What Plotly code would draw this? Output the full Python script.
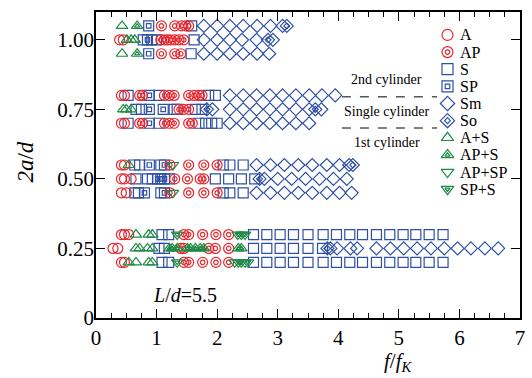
import plotly.graph_objects as go

# ---------------- data (f/fK values for each 2a/d row) ----------------
A = {1.00: [0.39, 0.45], 0.80: [0.42, 0.47], 0.70: [0.42, 0.47], 0.55: [0.42, 0.47],
     0.50: [0.42, 0.47, 0.58], 0.45: [0.42, 0.50], 0.30: [0.42, 0.47, 0.54],
     0.25: [0.28, 0.36], 0.20: [0.42, 0.47]}
AP = {1.05: [1.08, 1.30, 1.41, 1.48, 1.53], 1.00: [1.07, 1.13, 1.18, 1.23, 1.30, 1.37, 1.45],
      0.95: [1.08, 1.30, 1.40],
      0.80: [0.72, 0.77, 1.13, 1.21, 1.29, 1.53, 1.62, 1.70, 1.75], 0.75: [1.37, 1.45, 1.53],
      0.70: [0.72, 0.77, 1.13, 1.21, 1.29, 1.53, 1.59],
      0.55: [1.22, 1.53, 1.78, 2.00], 0.50: [1.30, 1.51, 1.72, 1.78], 0.45: [1.22, 1.53, 1.78, 2.00],
      0.30: [1.45, 1.53, 1.76, 1.98, 2.19], 0.25: [1.40, 1.45, 1.86, 1.97, 2.19],
      0.20: [1.45, 1.53, 1.76, 1.98, 2.19]}
S = {1.05: [1.58], 1.00: [0.78, 0.92, 1.00, 1.62], 0.95: [1.57],
     0.80: [0.53, 1.04, 1.86, 1.97], 0.75: [0.66, 0.75, 1.29, 1.34, 1.64, 1.75],
     0.70: [0.53, 1.04, 1.70, 1.81, 1.91, 2.00],
     0.55: [0.64, 0.72, 1.07, 2.10, 2.21, 2.43], 0.50: [0.66, 0.85, 0.93, 1.21, 1.97, 2.19, 2.40, 2.62],
     0.45: [0.64, 0.70, 1.07, 2.10, 2.21, 2.43],
     0.30: [1.09, 1.20, 2.60, 2.82, 3.04, 3.26, 3.50, 3.75, 3.97, 4.19, 4.40, 4.63, 4.85, 5.07, 5.28, 5.50, 5.73],
     0.25: [1.04, 1.13, 2.60, 2.82, 3.04, 3.26, 3.50, 3.74],
     0.20: [1.09, 1.20, 2.60, 2.82, 3.04, 3.26, 3.50, 3.75, 3.97, 4.19, 4.40, 4.63, 4.85, 5.07, 5.28, 5.50, 5.73]}
SP = {1.05: [0.87], 1.00: [0.85], 0.95: [0.87], 0.80: [0.88], 0.75: [0.88, 1.11], 0.70: [0.88],
      0.55: [0.88, 1.13], 0.50: [1.02, 1.07, 1.13], 0.45: [0.80, 1.13]}
Sm = {1.05: [1.78, 2.00, 2.21, 2.43, 2.66, 2.88, 3.08],
      1.00: [1.78, 2.00, 2.21, 2.41, 2.65, 2.92],
      0.95: [1.78, 2.00, 2.21, 2.43, 2.66, 2.86],
      0.80: [2.21, 2.43, 2.65, 2.87, 3.08, 3.30, 3.52, 3.73, 3.95],
      0.75: [1.92, 2.21, 2.43, 2.65, 2.87, 3.08, 3.30, 3.52, 3.72],
      0.70: [2.21, 2.43, 2.65, 2.87, 3.08, 3.30, 3.52],
      0.55: [2.65, 2.88, 3.11, 3.34, 3.57, 3.81, 4.02, 4.18],
      0.50: [2.78, 3.00, 3.23, 3.46, 3.69, 3.92, 4.14],
      0.45: [2.65, 2.88, 3.11, 3.34, 3.57, 3.81, 4.02, 4.22],
      0.25: [3.87, 3.98, 4.20, 4.31, 4.63, 4.86, 5.08, 5.30, 5.53, 5.75, 5.97, 6.19, 6.42, 6.64]}
So = {1.05: [3.15], 1.00: [2.84], 0.75: [1.83, 3.62], 0.55: [4.24], 0.50: [2.70], 0.25: [3.82]}
A_S = {1.05: [0.43], 1.00: [0.51, 0.58, 0.64], 0.95: [0.43], 0.75: [0.45, 0.50, 0.58], 0.55: [0.54],
       0.30: [0.66, 0.87, 0.93], 0.25: [0.66, 0.72, 0.85, 0.93], 0.20: [0.54, 0.66, 0.87, 0.93]}
AP_S = {1.05: [0.68], 0.95: [0.68],
        0.25: [1.21, 1.26, 1.34, 1.51, 1.56, 1.64, 1.72, 1.78, 2.35, 2.40]}
AP_SP = {0.55: [1.27], 0.45: [1.27], 0.20: [2.29, 2.46]}
SP_S = {0.30: [1.34, 2.34, 2.40, 2.46], 0.20: [1.34, 2.35, 2.40, 2.51]}

legend_names = ["A", "AP", "S", "SP", "Sm", "So", "A+S", "AP+S", "AP+SP", "SP+S"]
x_ticks = [0, 1, 2, 3, 4, 5, 6, 7]
y_ticks = [0, 0.25, 0.50, 0.75, 1.00]
y_ticktext = ["0", "0.25", "0.50", "0.75", "1.00"]

# ---------------- styles ----------------
RED, BLUE, GREEN = "#e8262d", "#2e4fa3", "#1f8a45"
FONT = "Liberation Serif"
styles = {
    "A": (A, "circle-open", None, RED),
    "AP": (AP, "circle-open", "circle-open", RED),
    "S": (S, "square-open", None, BLUE),
    "SP": (SP, "square-open", "square-open", BLUE),
    "Sm": (Sm, "diamond-open", None, BLUE),
    "So": (So, "diamond-open", "diamond-open", BLUE),
    "A+S": (A_S, "triangle-up-open", None, GREEN),
    "AP+S": (AP_S, "triangle-up-open", "triangle-up-open", GREEN),
    "AP+SP": (AP_SP, "triangle-down-open", None, GREEN),
    "SP+S": (SP_S, "triangle-down-open", "triangle-down-open", GREEN),
}
draw_order = ["S", "SP", "Sm", "So", "A", "AP", "A+S", "AP+S", "AP+SP", "SP+S"]
SIZE, INNER, LW = 10, 4.5, 1.2


def flatten(d):
    xs, ys = [], []
    for row, vals in d.items():
        for v in vals:
            xs.append(v)
            ys.append(row)
    return xs, ys


fig = go.Figure()
for name in draw_order:
    d, sym, inner, col = styles[name]
    xs, ys = flatten(d)
    fig.add_trace(go.Scatter(x=xs, y=ys, mode="markers", showlegend=False, hoverinfo="skip",
                             marker=dict(symbol=sym, size=SIZE, color=col, line=dict(color=col, width=LW))))
    if inner:
        fig.add_trace(go.Scatter(x=xs, y=ys, mode="markers", showlegend=False, hoverinfo="skip",
                                 marker=dict(symbol=inner, size=INNER, color=col, line=dict(color=col, width=LW))))

# ---------------- custom legend on an overlay axis ----------------
LEG_X, LEG_TX, LEG_Y0, LEG_DY = 0.829, 0.853, 0.925, 0.056
for i, name in enumerate(legend_names):
    d, sym, inner, col = styles[name]
    yy = LEG_Y0 - i * LEG_DY
    fig.add_trace(go.Scatter(x=[LEG_X], y=[yy], xaxis="x2", yaxis="y2", mode="markers", showlegend=False,
                             hoverinfo="skip",
                             marker=dict(symbol=sym, size=SIZE + 1, color=col, line=dict(color=col, width=LW))))
    if inner:
        fig.add_trace(go.Scatter(x=[LEG_X], y=[yy], xaxis="x2", yaxis="y2", mode="markers", showlegend=False,
                                 hoverinfo="skip",
                                 marker=dict(symbol=inner, size=INNER, color=col, line=dict(color=col, width=LW))))
    fig.add_annotation(x=LEG_TX, y=yy, xref="paper", yref="paper", text=name, showarrow=False,
                       xanchor="left", yanchor="middle", font=dict(family=FONT, size=16, color="black"))

# cylinder labels and dashed separators
for txt, yv in [("2nd cylinder", 0.856), ("Single cylinder", 0.742), ("1st cylinder", 0.630)]:
    fig.add_annotation(x=4.80, y=yv, text=txt, showarrow=False, xanchor="center", yanchor="middle",
                       font=dict(family=FONT, size=14, color="black"))
for yv in [0.795, 0.683]:
    fig.add_shape(type="line", x0=4.06, x1=5.63, y0=yv, y1=yv, line=dict(color="black", width=1, dash="dash"))

fig.add_annotation(x=1.476, y=0.083, text="<i>L</i>/<i>d</i>=5.5", showarrow=False,
                   font=dict(family=FONT, size=20, color="black"))
fig.add_annotation(x=-0.166, y=0.51, xref="paper", yref="paper", text="<i>2a</i>/<i>d</i>", textangle=-90,
                   xanchor="center", yanchor="middle",
                   showarrow=False, font=dict(family=FONT, size=23, color="black"))
fig.add_annotation(x=0.713, y=-0.144, xref="paper", yref="paper", text="<i>f</i>/<i>f</i><sub><i>K</i></sub>",
                   xanchor="center", yanchor="middle",
                   showarrow=False, font=dict(family=FONT, size=21, color="black"))

axis_common = dict(showline=True, linecolor="black", linewidth=1.5, mirror="ticks", ticks="inside",
                   ticklen=9, tickwidth=1.2, tickcolor="black", showgrid=False, zeroline=False,
                   tickfont=dict(family=FONT, size=21, color="black"))
fig.update_layout(
    width=532, height=378, margin=dict(l=96, r=7, t=12, b=60),
    plot_bgcolor="white", paper_bgcolor="white", showlegend=False,
    xaxis=dict(range=[0, 7], tickvals=x_ticks, minor=dict(dtick=0.25, ticks="inside", ticklen=5,
                                                           tickcolor="black", tickwidth=1), **axis_common),
    yaxis=dict(range=[0, 1.1], tickvals=y_ticks, ticktext=y_ticktext, ticklabelstandoff=-4, **axis_common),
    xaxis2=dict(overlaying="x", range=[0, 1], visible=False, anchor="y2"),
    yaxis2=dict(overlaying="y", range=[0, 1], visible=False, anchor="x2"),
)
fig.write_html("out.html", config={"displayModeBar": False},
               post_script="document.body.style.margin='0px';")
